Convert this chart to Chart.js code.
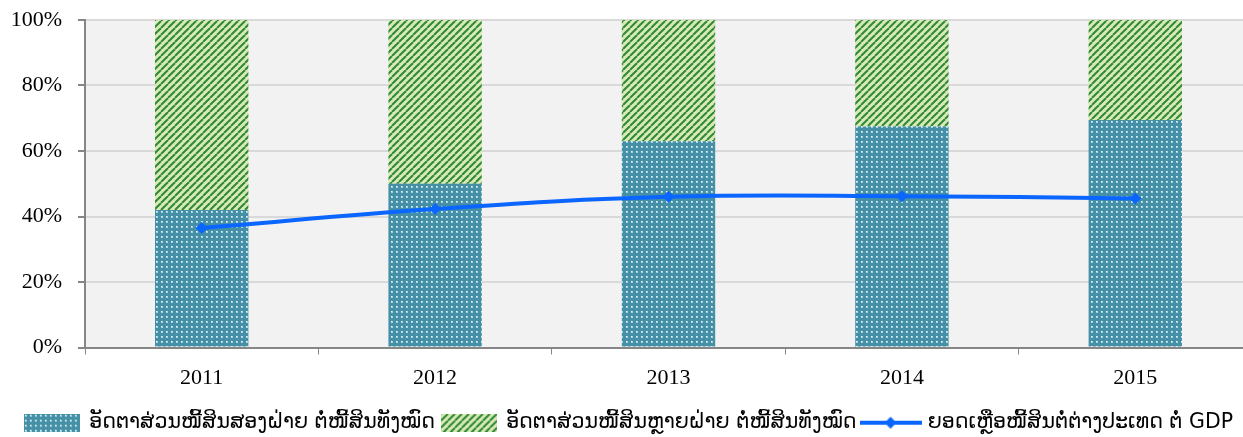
<!DOCTYPE html>
<html>
<head>
<meta charset="utf-8">
<script src="https://cdn.jsdelivr.net/npm/chart.js@4"></script>
<style>
  html, body { margin: 0; padding: 0; background: #fff; overflow: hidden; }
  #wrap { width: 1258px; height: 437px; }
</style>
</head>
<body>
<div id="wrap"><canvas id="chart"></canvas></div>
<script>
// data
var years = ['2011', '2012', '2013', '2014', '2015'];
var bilateralShare = [42, 50, 63, 67.5, 69.5];      // blue dotted bars
var multilateralShare = [58, 50, 37, 32.5, 30.5];   // green striped bars
var debtToGdp = [36.5, 42.3, 46.0, 46.2, 45.5];     // blue line
var yTicks = [0, 20, 40, 60, 80, 100];

var labelNames = [
    'ອັດຕາສ່ວນໜີ້ສິນສອງຝ່າຍ ຕໍ່ໜີ້ສິນທັງໝົດ',
    'ອັດຕາສ່ວນໜີ້ສິນຫຼາຍຝ່າຍ ຕໍ່ໜີ້ສິນທັງໝົດ',
    'ຍອດເຫຼືອໜີ້ສິນຕໍ່ຕ່າງປະເທດ ຕໍ່ GDP'
];

// small tiles for the bar fills
function dotTile() {
    var c = document.createElement('canvas');
    c.width = 5; c.height = 5;
    var g = c.getContext('2d');
    g.fillStyle = '#4590a6';
    g.fillRect(0, 0, 5, 5);
    g.fillStyle = '#a7d4e0';
    g.fillRect(1, 1, 2, 2);
    g.fillStyle = '#e8f5f8';
    g.fillRect(1, 1, 1, 1);
    return c;
}

function stripeTile() {
    var c = document.createElement('canvas');
    c.width = 7; c.height = 7;
    var g = c.getContext('2d');
    g.fillStyle = '#d8e9bb';
    g.fillRect(0, 0, 7, 7);
    g.strokeStyle = '#2f8a2f';
    g.lineWidth = 2;
    [-7, 0, 7].forEach(function (o) {
        g.beginPath();
        g.moveTo(o, 7);
        g.lineTo(o + 7, 0);
        g.stroke();
    });
    return c;
}

var ctx = document.getElementById('chart').getContext('2d');
var dotPattern = ctx.createPattern(dotTile(), 'repeat');
var stripePattern = ctx.createPattern(stripeTile(), 'repeat');

function legendSwatch(kind) {
    var c = document.createElement('canvas');
    c.width = 56; c.height = 18;
    var g = c.getContext('2d');
    g.fillStyle = g.createPattern(kind === 'dots' ? dotTile() : stripeTile(), 'repeat');
    g.fillRect(0, 0, 56, 18);
    return c;
}

function legendLine() {
    var c = document.createElement('canvas');
    c.width = 62; c.height = 14;
    var g = c.getContext('2d');
    g.strokeStyle = '#0a66ff';
    g.lineWidth = 4;
    g.beginPath();
    g.moveTo(0, 7);
    g.lineTo(62, 7);
    g.stroke();
    g.fillStyle = '#0a66ff';
    g.beginPath();
    g.moveTo(31, 1); g.lineTo(37, 7); g.lineTo(31, 13); g.lineTo(25, 7);
    g.closePath();
    g.fill();
    return c;
}

var legendIcons = [legendSwatch('dots'), legendSwatch('stripes'), legendLine()];

// grey plot background
var plotBg = {
    id: 'plotBg',
    beforeDraw: function (chart) {
        var a = chart.chartArea;
        var c = chart.ctx;
        c.save();
        c.fillStyle = '#f2f2f2';
        c.fillRect(a.left, a.top, a.right - a.left, a.bottom - a.top);
        c.restore();
    }
};

new Chart(ctx, {
    data: {
        labels: years,
        datasets: [
            {
                type: 'bar',
                label: labelNames[0],
                data: bilateralShare,
                backgroundColor: dotPattern,
                order: 2
            },
            {
                type: 'bar',
                label: labelNames[1],
                data: multilateralShare,
                backgroundColor: stripePattern,
                order: 3
            },
            {
                type: 'line',
                label: labelNames[2],
                data: debtToGdp,
                borderColor: '#0a66ff',
                backgroundColor: '#0a66ff',
                borderWidth: 4,
                tension: 0.4,
                pointStyle: 'rectRot',
                pointRadius: 6,
                pointBorderWidth: 0,
                fill: false,
                order: 1
            }
        ]
    },
    options: {
        responsive: true,
        maintainAspectRatio: false,
        animation: false,
        barPercentage: 0.4,
        categoryPercentage: 1,
        layout: { padding: { top: 20, left: 0, right: 0, bottom: -6 } },
        plugins: {
            tooltip: { enabled: false },
            legend: {
                position: 'bottom',
                labels: {
                    usePointStyle: true,
                    pointStyleWidth: 54,
                    boxHeight: 18,
                    padding: 7,
                    color: '#000',
                    font: { family: "'DejaVu Sans', sans-serif", size: 20.5 },
                    generateLabels: function (chart) {
                        return chart.data.datasets.map(function (ds, i) {
                            return {
                                text: ds.label,
                                pointStyle: legendIcons[i],
                                fillStyle: 'transparent',
                                strokeStyle: 'transparent',
                                lineWidth: 0,
                                datasetIndex: i,
                                hidden: false
                            };
                        });
                    }
                }
            }
        },
        scales: {
            x: {
                stacked: true,
                afterFit: function (s) { s.height = 58; },
                grid: {
                    offset: true,
                    drawOnChartArea: false,
                    color: '#868686',
                    tickLength: 7
                },
                border: { color: '#868686', width: 2 },
                ticks: {
                    color: '#000',
                    padding: 11,
                    font: { family: "'Liberation Serif', serif", size: 22 }
                }
            },
            y: {
                stacked: true,
                min: 0,
                max: 100,
                afterFit: function (s) {
                    s.width = 85;
                    s.paddingTop = 0;
                    s.paddingBottom = 0;
                },
                afterBuildTicks: function (s) {
                    s.ticks = yTicks.map(function (v) { return { value: v }; });
                },
                grid: {
                    color: '#d9d9d9',
                    lineWidth: 2,
                    tickColor: '#868686',
                    tickLength: 7
                },
                border: { color: '#868686', width: 2 },
                ticks: {
                    color: '#000',
                    padding: 16,
                    font: { family: "'Liberation Serif', serif", size: 22 },
                    callback: function (v) { return v + '%'; }
                }
            }
        }
    },
    plugins: [plotBg]
});
</script>
</body>
</html>
